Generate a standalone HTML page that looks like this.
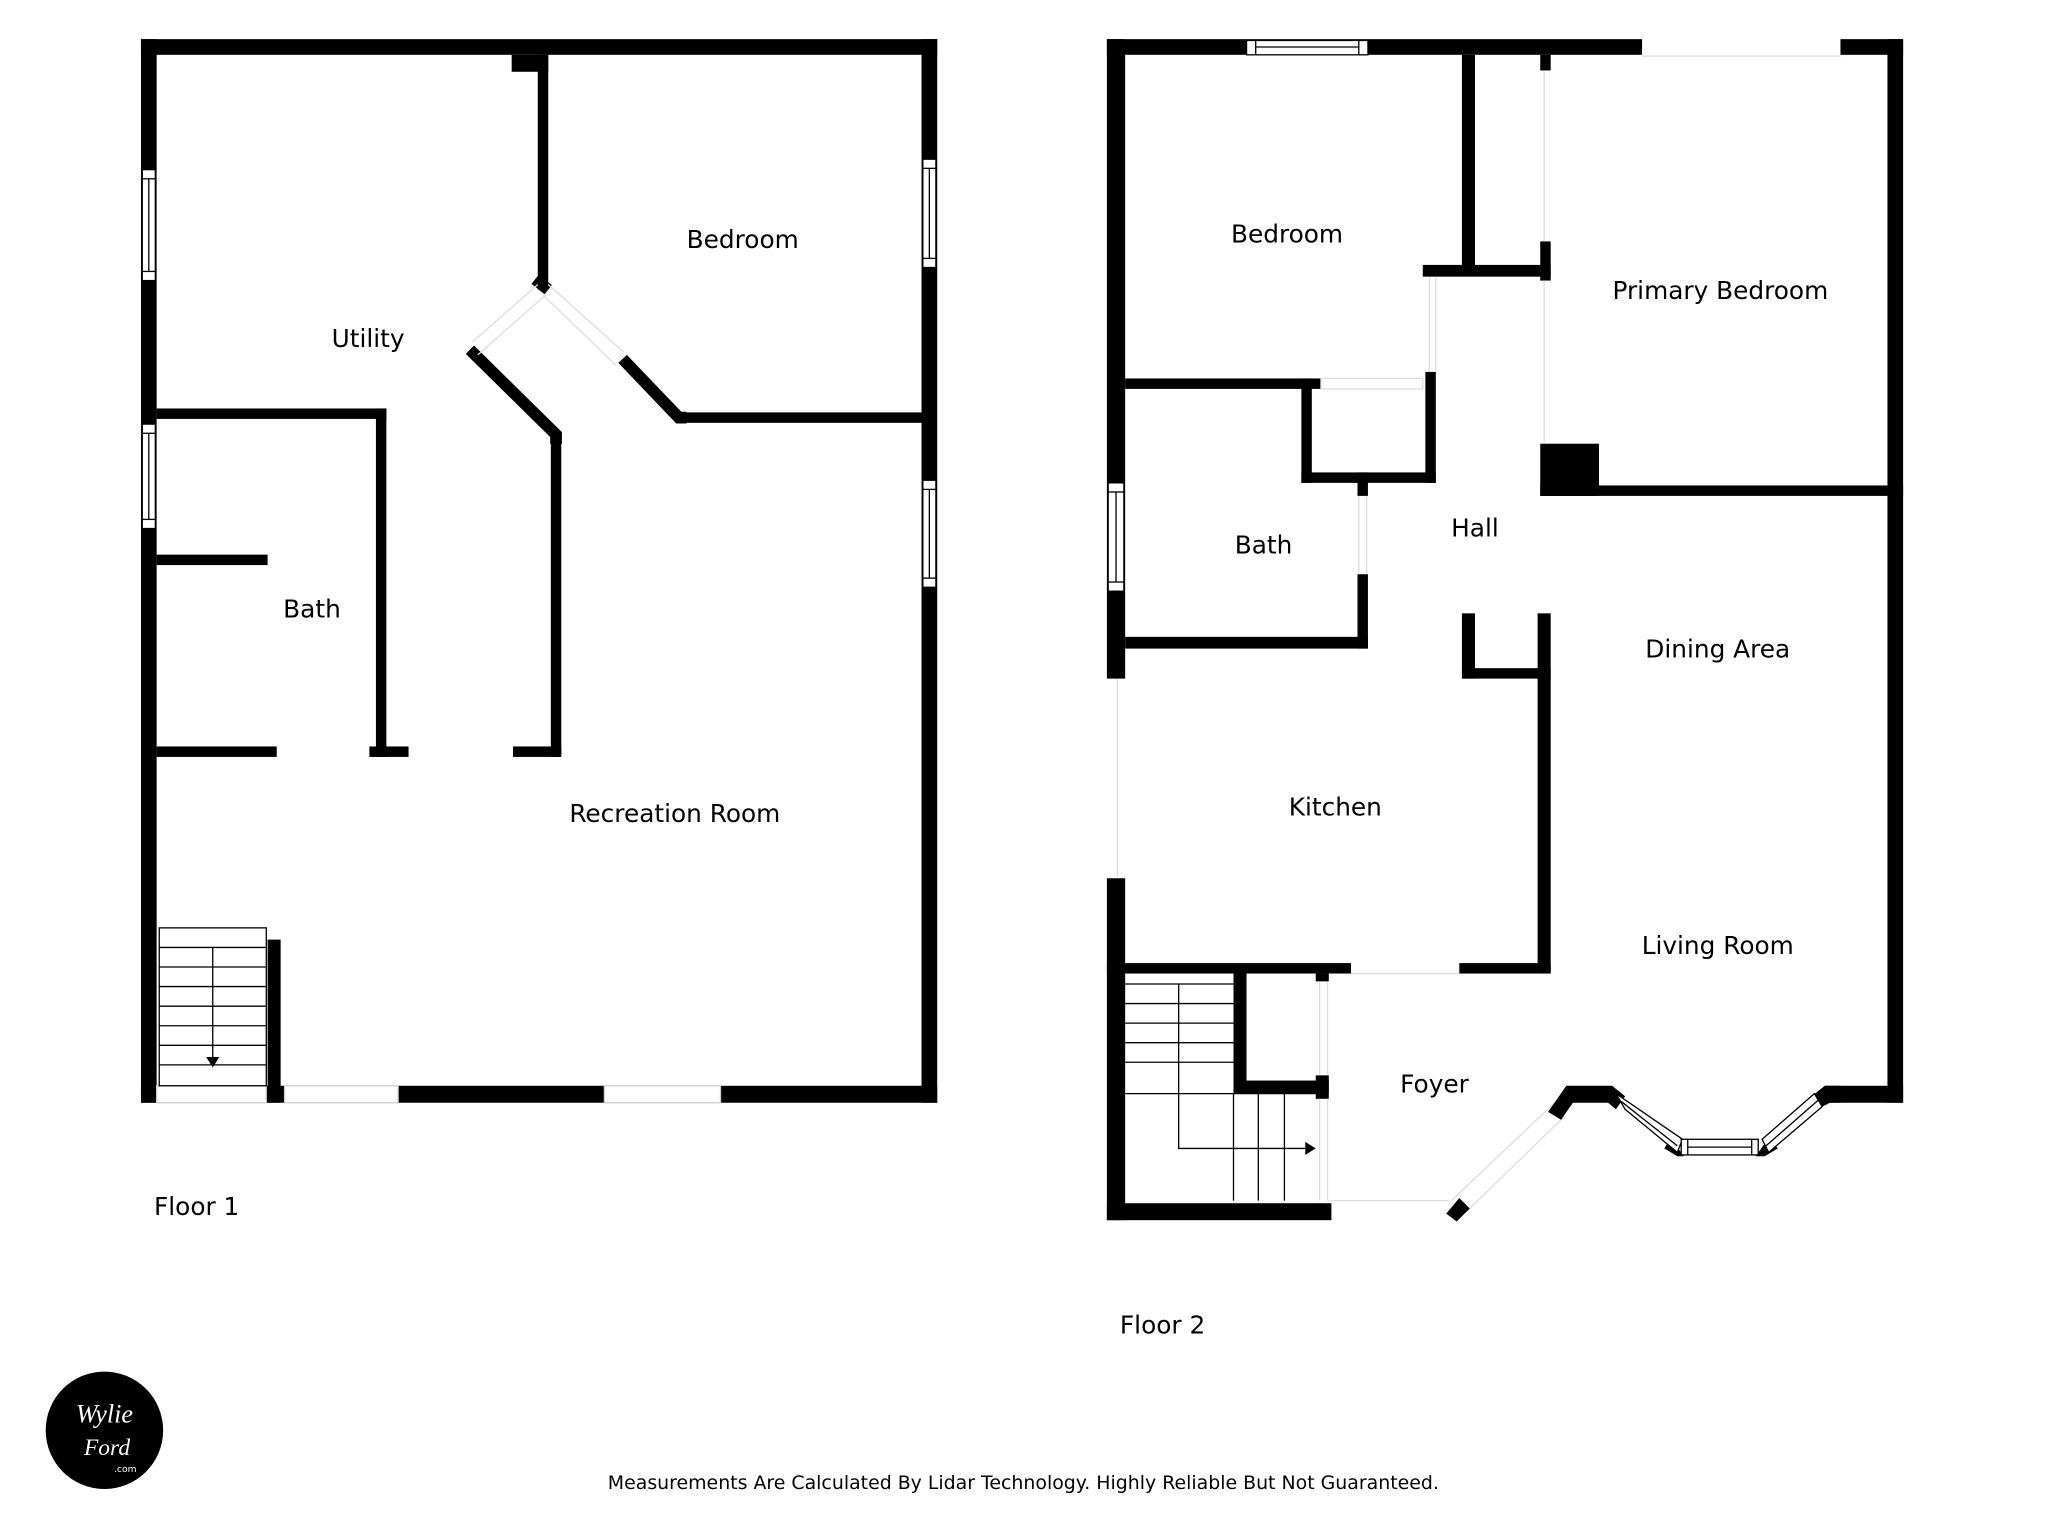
<!DOCTYPE html>
<html><head><meta charset="utf-8"><style>
html,body{margin:0;padding:0;background:#fff;}
svg{display:block;}
text{font-family:"DejaVu Sans","Liberation Sans",sans-serif;fill:#000;}
</style></head><body>
<svg width="2048" height="1536" viewBox="0 0 1569 1177" preserveAspectRatio="none" xmlns="http://www.w3.org/2000/svg">
<rect width="1569" height="1177" fill="#fff"/>
<g fill="#000">
<rect x="108" y="30" width="610" height="12"/>
<rect x="108" y="30" width="12" height="815"/>
<rect x="706" y="30" width="12" height="815"/>
<rect x="108" y="832" width="610" height="13"/>
</g>
<g fill="#fff" stroke="#ccc" stroke-width="1">
<rect x="120" y="832" width="84" height="13"/>
<rect x="218" y="832" width="87" height="13"/>
<rect x="463" y="832" width="89" height="13"/>
</g>
<g fill="#fff" stroke="#000" stroke-width="1">
<rect x="109" y="130" width="10" height="85"/><line x1="114" y1="137" x2="114" y2="208"/><line x1="109" y1="137" x2="119" y2="137"/><line x1="109" y1="208" x2="119" y2="208"/>
<rect x="109" y="325" width="10" height="80"/><line x1="114" y1="332" x2="114" y2="398"/><line x1="109" y1="332" x2="119" y2="332"/><line x1="109" y1="398" x2="119" y2="398"/>
<rect x="707" y="122" width="10" height="83"/><line x1="712" y1="129" x2="712" y2="198"/><line x1="707" y1="129" x2="717" y2="129"/><line x1="707" y1="198" x2="717" y2="198"/>
<rect x="707" y="368" width="10" height="82"/><line x1="712" y1="375" x2="712" y2="443"/><line x1="707" y1="375" x2="717" y2="375"/><line x1="707" y1="443" x2="717" y2="443"/>
</g>
<g fill="#000">
<rect x="392" y="42" width="28" height="13"/>
<rect x="412" y="42" width="8" height="180"/>
<rect x="422" y="333" width="8" height="247"/>
<rect x="393" y="572" width="37" height="8"/>
<rect x="120" y="313" width="176" height="8"/>
<rect x="288" y="313" width="8" height="267"/>
<rect x="283" y="572" width="30" height="8"/>
<rect x="120" y="572" width="92" height="8"/>
<rect x="120" y="425" width="85" height="8"/>
<rect x="520" y="316" width="186" height="8"/>
<rect x="205" y="720" width="10" height="125"/>
</g>
<g stroke="#000" stroke-width="9" fill="none">
<polyline points="360,268 426,333 426,340"/>
<polyline points="477,275 520,320 526,320"/>
<polyline points="410,214 420,222"/>
</g>
<g stroke="#ddd" stroke-width="1">
<line x1="362" y1="262" x2="412" y2="218"/><line x1="366" y1="272" x2="418" y2="226"/>
<line x1="420" y1="218" x2="478" y2="270"/><line x1="416" y1="226" x2="472" y2="280"/>
</g>
<g stroke="#000" stroke-width="1" fill="none">
<rect x="122" y="711" width="82" height="121"/>
<line x1="122" y1="726" x2="204" y2="726"/><line x1="122" y1="741" x2="204" y2="741"/><line x1="122" y1="756" x2="204" y2="756"/><line x1="122" y1="771" x2="204" y2="771"/><line x1="122" y1="786" x2="204" y2="786"/><line x1="122" y1="801" x2="204" y2="801"/><line x1="122" y1="816" x2="204" y2="816"/>
<line x1="163" y1="726" x2="163" y2="812"/>
</g>
<polygon points="158,810 168,810 163,818" fill="#000"/>

<g fill="#000">
<rect x="848" y="30" width="410" height="12"/>
<rect x="1410" y="30" width="48" height="12"/>
<rect x="1446" y="30" width="12" height="815"/>
<rect x="848" y="30" width="14" height="490"/>
<rect x="848" y="673" width="14" height="262"/>
<rect x="848" y="922" width="172" height="13"/>
<rect x="1398" y="832" width="60" height="13"/>
<rect x="1120" y="42" width="10" height="168"/>
<rect x="1090" y="203" width="98" height="9"/>
<rect x="1180" y="42" width="8" height="12"/>
<rect x="1180" y="185" width="8" height="30"/>
<rect x="1180" y="340" width="45" height="40"/>
<rect x="1180" y="372" width="278" height="8"/>
<rect x="862" y="290" width="150" height="8"/>
<rect x="997" y="290" width="8" height="80"/>
<rect x="1092" y="285" width="8" height="85"/>
<rect x="997" y="362" width="103" height="8"/>
<rect x="1040" y="362" width="8" height="18"/>
<rect x="1040" y="440" width="8" height="57"/>
<rect x="862" y="488" width="186" height="9"/>
<rect x="1120" y="470" width="10" height="50"/>
<rect x="1120" y="512" width="68" height="8"/>
<rect x="1178" y="470" width="10" height="276"/>
<rect x="848" y="738" width="187" height="8"/>
<rect x="1118" y="738" width="70" height="8"/>
<rect x="945" y="746" width="10" height="88"/>
<rect x="945" y="828" width="73" height="10"/>
<rect x="1008" y="824" width="10" height="18"/>
<rect x="1008" y="746" width="10" height="6"/>
</g>
<g stroke="#ddd" stroke-width="1" fill="none">
<line x1="1258" y1="43" x2="1410" y2="43"/>
<line x1="856" y1="520" x2="856" y2="673"/>
<line x1="1183" y1="55" x2="1183" y2="185"/><line x1="1183" y1="215" x2="1183" y2="340"/>
<rect x="1012" y="290" width="78" height="8"/>
<line x1="1095" y1="212" x2="1095" y2="285"/><line x1="1100" y1="212" x2="1100" y2="285"/>
<line x1="1041" y1="380" x2="1041" y2="440"/><line x1="1047" y1="380" x2="1047" y2="440"/>
<line x1="1035" y1="746" x2="1118" y2="746"/>
<line x1="1011" y1="752" x2="1011" y2="824"/><line x1="1017" y1="752" x2="1017" y2="824"/>
<line x1="1011" y1="842" x2="1011" y2="920"/><line x1="1017" y1="842" x2="1017" y2="920"/>
<line x1="1018" y1="920" x2="1110" y2="920"/>
<line x1="1112" y1="920" x2="1190" y2="846"/><line x1="1124" y1="928" x2="1198" y2="856"/>
</g>
<g fill="#fff" stroke="#000" stroke-width="1">
<rect x="955" y="31" width="93" height="11"/><line x1="962" y1="36" x2="1041" y2="36"/><line x1="962" y1="31" x2="962" y2="42"/><line x1="1041" y1="31" x2="1041" y2="42"/>
<rect x="849" y="370" width="12" height="83"/><line x1="855" y1="377" x2="855" y2="446"/><line x1="849" y1="377" x2="861" y2="377"/><line x1="849" y1="446" x2="861" y2="446"/>
</g>
<polygon points="1108,930 1118,918 1126,926 1116,936" fill="#000"/>
<polygon points="1186,852 1200,832 1235,832 1245,840 1238,850 1232,845 1205,845 1196,858" fill="#000"/>
<polygon points="1280,872 1290,886 1285,886 1275,880" fill="#000"/>
<polygon points="1345,886 1355,872 1362,880 1352,886" fill="#000"/>
<polygon points="1398,832 1410,832 1410,845 1402,845 1392,850 1388,840" fill="#000"/>
<g fill="#fff" stroke="#000" stroke-width="1">
<polygon points="1238,838 1245,850 1285,883 1289,873"/>
<line x1="1242" y1="844" x2="1285" y2="878"/>
<rect x="1288" y="873" width="59" height="12"/><line x1="1293" y1="879" x2="1342" y2="879"/><line x1="1293" y1="873" x2="1293" y2="885"/><line x1="1342" y1="873" x2="1342" y2="885"/>
<polygon points="1350,873 1355,883 1396,848 1390,838"/>
<line x1="1353" y1="878" x2="1393" y2="843"/>
</g>
<g stroke="#000" stroke-width="1" fill="none">
<line x1="862" y1="754" x2="945" y2="754"/><line x1="862" y1="769" x2="945" y2="769"/><line x1="862" y1="784" x2="945" y2="784"/><line x1="862" y1="799" x2="945" y2="799"/><line x1="862" y1="814" x2="945" y2="814"/><line x1="862" y1="838" x2="1008" y2="838"/>
<line x1="964" y1="838" x2="964" y2="920"/><line x1="984" y1="838" x2="984" y2="920"/><line x1="945" y1="838" x2="945" y2="920"/>
<polyline points="903,754 903,880 1002,880"/>
</g>
<polygon points="1000,875 1008,880 1000,885" fill="#000"/>

<g font-size="19">
<text x="569" y="190" text-anchor="middle">Bedroom</text>
<text x="282" y="266" text-anchor="middle">Utility</text>
<text x="239" y="473" text-anchor="middle">Bath</text>
<text x="517" y="630" text-anchor="middle">Recreation Room</text>
<text x="118" y="931">Floor 1</text>
<text x="986" y="186" text-anchor="middle">Bedroom</text>
<text x="1318" y="229" text-anchor="middle">Primary Bedroom</text>
<text x="968" y="424" text-anchor="middle">Bath</text>
<text x="1130" y="411" text-anchor="middle">Hall</text>
<text x="1316" y="504" text-anchor="middle">Dining Area</text>
<text x="1023" y="625" text-anchor="middle">Kitchen</text>
<text x="1316" y="731" text-anchor="middle">Living Room</text>
<text x="1099" y="837" text-anchor="middle">Foyer</text>
<text x="858" y="1022">Floor 2</text>
</g>
<text x="784" y="1141" text-anchor="middle" font-size="14.5">Measurements Are Calculated By Lidar Technology. Highly Reliable But Not Guaranteed.</text>
<circle cx="80" cy="1096" r="45" fill="#000"/>
<text x="80" y="1090" text-anchor="middle" font-size="20" font-style="italic" style="font-family:'Liberation Serif',serif;fill:#fff">Wylie</text>
<text x="82" y="1115" text-anchor="middle" font-size="18" font-style="italic" style="font-family:'Liberation Serif',serif;fill:#fff">Ford</text>
<text x="96" y="1128" text-anchor="middle" font-size="7" style="fill:#fff">.com</text>
</svg>
</body></html>
